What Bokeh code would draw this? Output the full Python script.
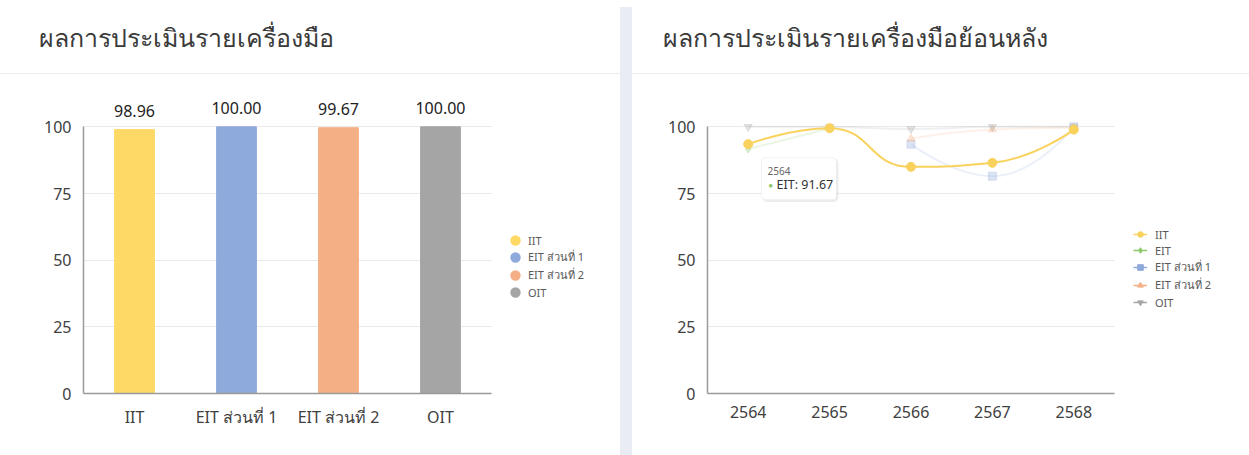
import math
from bokeh.plotting import figure
from bokeh.models import (ColumnDataSource, Legend, LegendItem, LabelSet, Label,
                          BoxAnnotation, FixedTicker, Range1d, Div)
from bokeh.core.properties import value
from bokeh.layouts import row, column
from bokeh.embed import file_html
from bokeh.resources import INLINE

nan = float("nan")
FONT = "Noto Sans"

# ---------------- data ----------------
left_title = "ผลการประเมินรายเครื่องมือ"
right_title = "ผลการประเมินรายเครื่องมือย้อนหลัง"

bar_categories = ["IIT", "EIT ส่วนที่ 1", "EIT ส่วนที่ 2", "OIT"]
bar_values = [98.96, 100.00, 99.67, 100.00]
bar_colors = ["#FFD966", "#8EA9DB", "#F4B084", "#A5A5A5"]

years = [2564, 2565, 2566, 2567, 2568]
series_names = ["IIT", "EIT", "EIT ส่วนที่ 1", "EIT ส่วนที่ 2", "OIT"]
iit_values = [93.5, 99.5, 85.0, 86.5, 98.96]
eit_values = [91.67, 99.4, nan, nan, nan]
eit1_values = [nan, nan, 93.5, 81.5, 100.0]
eit2_values = [nan, nan, 95.5, 99.0, 99.67]
oit_values = [100.0, 100.0, 99.2, 100.0, 100.0]
series_values = [iit_values, eit_values, eit1_values, eit2_values, oit_values]
series_colors = ["#F9D25E", "#8CC86A", "#8EA9DB", "#F4B084", "#A5A5A5"]
series_markers = ["circle", "diamond", "square", "triangle", "inverted_triangle"]
highlighted = "IIT"

tick_values = [0, 25, 50, 75, 100]

# ---------------- layout / style constants ----------------
W1, W2, STRIP = 620, 617, 12
H_TOTAL = 455
HDR = 73
CH = H_TOTAL - HDR - 1
BL1, BL2, BR, BT, BB = 83, 75, 2, 23, 62
TITLE_DX = -45
Y_END = 111.0
PX_PER_CAT = 102.0
PX_PER_YEAR = 81.4


def header(text, w, bl):
    h = figure(width=w, height=HDR, output_backend="svg", toolbar_location=None, tools="",
               x_axis_location=None, y_axis_location=None,
               min_border_left=bl, min_border_right=BR, min_border_top=53, min_border_bottom=0,
               outline_line_color=None, border_fill_color="white")
    h.xgrid.visible = False
    h.ygrid.visible = False
    h.title.text = text
    h.title.text_font = FONT
    h.title.text_font_size = "25px"
    h.title.text_font_style = "normal"
    h.title.text_color = "#3a3a3a"
    h.title.align = "left"
    h.title.offset = TITLE_DX
    h.title.standoff = 0
    return h


def make_fig(w, bl, x_range):
    p = figure(width=w, height=CH, output_backend="svg", toolbar_location=None, tools="",
               x_range=x_range, y_range=Range1d(0, Y_END),
               min_border_left=bl, min_border_right=BR, min_border_top=BT, min_border_bottom=BB,
               outline_line_color=None, border_fill_color="white")
    for ax in (p.xaxis[0], p.yaxis[0]):
        ax.major_label_text_font = FONT
        ax.major_label_text_font_size = "16px"
        ax.major_label_text_color = "#404040"
        ax.major_tick_line_color = None
        ax.minor_tick_line_color = None
        ax.major_tick_in = 0
        ax.major_tick_out = 0
        ax.axis_line_color = "#9a9a9a"
        ax.axis_line_width = 1.5
    p.yaxis.ticker = FixedTicker(ticks=tick_values)
    p.yaxis.bounds = (0, 100)
    p.yaxis.major_label_standoff = 12
    p.xaxis.major_label_standoff = 12
    p.ygrid.ticker = FixedTicker(ticks=tick_values)
    p.ygrid.grid_line_color = "#e9e9e9"
    p.xgrid.visible = False
    return p


def card(title, w, bl, p):
    return column(header(title, w, bl),
                  Div(text="", width=w, height=1, margin=0,
                      styles={"background-color": "#ececec"}),
                  p)


def smooth_segments(xs, ys, smooth=0.5, aspect=30.5):
    seg = {k: [] for k in ("x0", "y0", "x1", "y1", "cx0", "cy0", "cx1", "cy1")}
    runs, cur = [], []
    for x, y in zip(xs, ys):
        if y is None or math.isnan(y):
            if cur:
                runs.append(cur)
            cur = []
        else:
            cur.append((x, y))
    if cur:
        runs.append(cur)
    for run in runs:
        n = len(run)
        if n < 2:
            continue
        cpx0, cpy0 = run[0]
        for k in range(1, n):
            x, y = run[k]
            px, py = run[k - 1]
            if k == n - 1:
                cpx1, cpy1 = x, y
                ncx, ncy = x, y
            else:
                nx, ny = run[k + 1]
                vx, vy = nx - px, ny - py
                lp = math.hypot(x - px, (y - py) / aspect)
                ln = math.hypot(nx - x, (ny - y) / aspect)
                r = ln / (ln + lp)
                ncx = x + vx * smooth * r
                ncy = y + vy * smooth * r
                ncx = max(min(ncx, max(nx, x)), min(nx, x))
                ncy = max(min(ncy, max(ny, y)), min(ny, y))
                vx, vy = ncx - x, ncy - y
                cpx1 = x - vx * lp / ln
                cpy1 = y - vy * lp / ln
                cpx1 = max(min(cpx1, max(px, x)), min(px, x))
                cpy1 = max(min(cpy1, max(py, y)), min(py, y))
                vx, vy = x - cpx1, y - cpy1
                ncx = x + vx * ln / lp
                ncy = y + vy * ln / lp
            seg["x0"].append(px); seg["y0"].append(py)
            seg["x1"].append(x); seg["y1"].append(y)
            seg["cx0"].append(cpx0); seg["cy0"].append(cpy0)
            seg["cx1"].append(cpx1); seg["cy1"].append(cpy1)
            cpx0, cpy0 = ncx, ncy
    return seg


def style_legend(lg):
    lg.label_text_font = FONT
    lg.label_text_font_size = "11px"
    lg.label_text_color = "#595959"
    lg.border_line_color = None
    lg.background_fill_alpha = 0
    lg.padding = 0
    lg.margin = 0
    lg.spacing = 0
    lg.glyph_height = 16
    lg.label_height = 16


# ---------------- left card: bars ----------------
n_cat = len(bar_categories)
bar_x = [i + 0.5 for i in range(n_cat)]
bar_src = ColumnDataSource(dict(x=bar_x, cat=bar_categories, value=bar_values, color=bar_colors,
                                label=[f"{v:.2f}" for v in bar_values]))
p1 = make_fig(W1, BL1, Range1d(0, (W1 - BL1 - BR) / PX_PER_CAT))
p1.xaxis.ticker = FixedTicker(ticks=bar_x)
p1.xaxis.major_label_overrides = {x: c for x, c in zip(bar_x, bar_categories)}
p1.xaxis.bounds = (0, n_cat)
p1.ygrid.cross_bounds = (0, n_cat)
p1.vbar(x="x", top="value", width=0.39, color="color", source=bar_src)
p1.add_layout(LabelSet(x="x", y="value", text="label", source=bar_src, y_offset=13,
                       text_align="center", text_baseline="bottom", text_font=value(FONT),
                       text_font_size="16px", text_color="#222222"))

items1 = []
for x, v, name, c in zip(bar_x, bar_values, bar_categories, bar_colors):
    r = p1.scatter(x=[x], y=[v], marker="circle", fill_color=c, line_color=c,
                   line_width=4, visible=False)
    items1.append(LegendItem(label=name, renderers=[r]))
lg1 = Legend(items=items1, location=(424, 93))
style_legend(lg1)
lg1.glyph_width = 16
lg1.label_standoff = 5
p1.add_layout(lg1)

# ---------------- right card: lines ----------------
x0 = years[0] - 0.5
p2 = make_fig(W2, BL2, Range1d(x0, x0 + (W2 - BL2 - BR) / PX_PER_YEAR))
p2.xaxis.ticker = FixedTicker(ticks=years)
p2.xaxis.bounds = (x0, years[-1] + 0.5)
p2.ygrid.cross_bounds = (x0, years[-1] + 0.5)

order = [1, 2, 3, 4, 0]  # highlighted series drawn last
for idx in order:
    name, vals, c, m = series_names[idx], series_values[idx], series_colors[idx], series_markers[idx]
    hi = name == highlighted
    seg = smooth_segments(years, vals)
    p2.bezier(x0="x0", y0="y0", x1="x1", y1="y1", cx0="cx0", cy0="cy0", cx1="cx1", cy1="cy1",
              source=ColumnDataSource(seg), line_color=c, line_width=2,
              line_alpha=1.0 if hi else 0.18)
    pts = [(x, y) for x, y in zip(years, vals) if not math.isnan(y)]
    p2.scatter(x=[q[0] for q in pts], y=[q[1] for q in pts], marker=m, size=9 if hi else 8,
               fill_color=c, line_color=c, fill_alpha=1.0 if hi else 0.3,
               line_alpha=1.0 if hi else 0.3)

items2 = []
for name, vals, c, m in zip(series_names, series_values, series_colors, series_markers):
    xs = [x for x, y in zip(years, vals) if not math.isnan(y)]
    ys = [y for y in vals if not math.isnan(y)]
    rl = p2.line(x=xs, y=ys, line_color=c, line_width=1.5, visible=False)
    rs = p2.scatter(x=xs, y=ys, marker=m, fill_color=c, line_color=c, visible=False)
    items2.append(LegendItem(label=name, renderers=[rl, rs]))
lg2 = Legend(items=items2, location=(426, 83))
style_legend(lg2)
lg2.glyph_width = 14
lg2.label_standoff = 8
p2.add_layout(lg2)

# tooltip shown in the reference (hover on EIT, first year)
tip_x, tip_y = years[0], eit_values[0]
p2.add_layout(BoxAnnotation(left=tip_x + 0.175, right=tip_x + 1.11,
                            top=tip_y - 3.6, bottom=tip_y - 19.9,
                            fill_color="#000000", fill_alpha=0.07, line_color=None,
                            border_radius=5))
p2.add_layout(BoxAnnotation(left=tip_x + 0.163, right=tip_x + 1.085,
                            top=tip_y - 3.28, bottom=tip_y - 19.0,
                            fill_color="white", fill_alpha=1, line_color="#d4d4d4",
                            line_width=1, border_radius=4))
p2.add_layout(Label(x=tip_x + 0.237, y=tip_y - 8.15, text=str(years[0]), text_font=FONT,
                    text_font_size="10px", text_color="#666666", text_baseline="middle"))
p2.add_layout(Label(x=tip_x + 0.245, y=tip_y - 13.4, text="●", text_font=FONT,
                    text_font_size="8px", text_color=series_colors[1], text_baseline="middle"))
p2.add_layout(Label(x=tip_x + 0.348, y=tip_y - 13.4, text=f"{series_names[1]}: {tip_y:.2f}",
                    text_font=FONT, text_font_size="12.5px", text_color="#333333",
                    text_baseline="middle"))

strip = Div(text="", width=STRIP, height=H_TOTAL - 7, margin=(7, 0, 0, 0),
            styles={"background-color": "#e9ecf2"})
layout = row(card(left_title, W1, BL1, p1), strip, card(right_title, W2, BL2, p2))

open("out.html", "w").write(file_html(layout, INLINE))
